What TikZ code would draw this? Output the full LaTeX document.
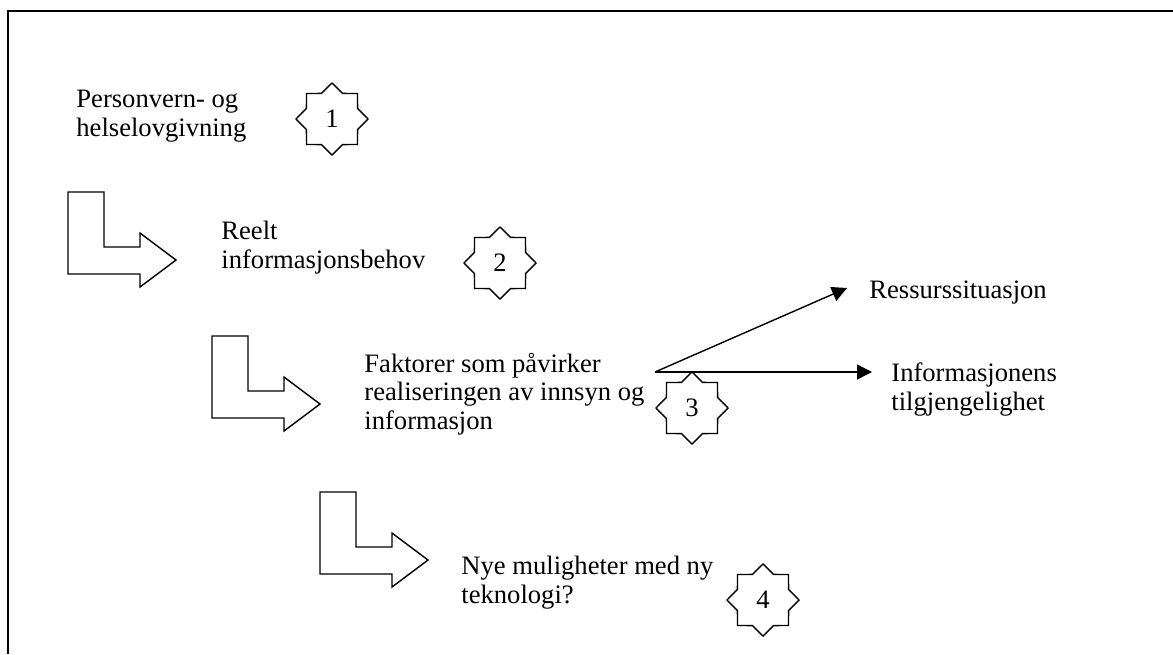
\documentclass[tikz,border=0pt]{standalone}
\usepackage{fontspec}
\setmainfont{Liberation Serif}
\usetikzlibrary{shapes.geometric,arrows.meta}
\begin{document}
\begin{tikzpicture}[x=0.5pt,y=-0.5pt,
  % multi-line labels: the base anchor sits on the last line
  lbl/.style={align=left,inner sep=0pt,anchor=base west,
    font=\fontsize{13.3}{14.1}\selectfont},
  starbox/.style={draw,star,star points=8,star point ratio=1.3,
    minimum size=36pt,inner sep=0pt,line width=0.7pt,
    font=\fontsize{13.3}{14.1}\selectfont},
  outline/.style={line width=0.7pt},
  link/.style={line width=0.7pt,-{Triangle[length=7.5pt,width=7.5pt]}},
  bentarrow/.pic={
    \draw[outline] (0,0) -- (36,0) -- (36,55) -- (72,55) -- (72,41)
      -- (108,68) -- (72,95) -- (72,82) -- (0,82) -- cycle;
  }]
\useasboundingbox (0,0) rectangle (1173,654);

% frame (top and left edges)
\draw[line width=0.8pt] (8,654) -- (8,11) -- (1173,11);

% step texts
\node[lbl] (lov) at (76,136) {Personvern- og\\helselovgivning};
\node[lbl] (behov) at (221,268) {Reelt\\informasjonsbehov};
\node[lbl] (faktor) at (364,429) {Faktorer som påvirker\\realiseringen av innsyn og\\informasjon};
\node[lbl] (ny) at (461,603) {Nye muligheter med ny\\teknologi?};
\node[lbl] (ress) at (869,298) {Ressurssituasjon};
\node[lbl] (tilg) at (891,410) {Informasjonens\\tilgjengelighet};

% numbered stars
\node[starbox] (s1) at (332,119) {1};
\node[starbox] (s2) at (500,263) {2};
\node[starbox] (s3) at (692,408) {3};
\node[starbox] (s4) at (763,600) {4};

% bent block arrows between the steps
\pic at (68,192) {bentarrow};
\pic at (212,336) {bentarrow};
\pic at (320,492) {bentarrow};

% factor arrows
\coordinate (src) at (655,372);
\coordinate (tipA) at (847,288);
\coordinate (tipB) at (872,372);
\draw[link] (src) -- (tipA);
\draw[link] (src) -- (tipB);
\end{tikzpicture}
\end{document}
